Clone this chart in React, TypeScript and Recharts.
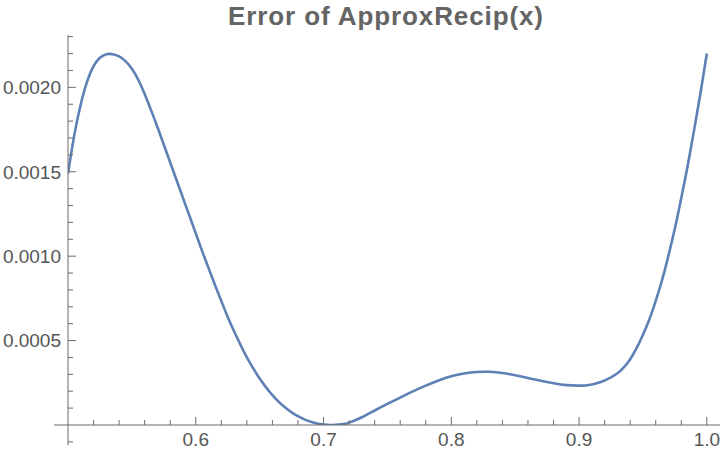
import { LineChart, Line, XAxis, YAxis, ReferenceLine } from "recharts";

const xs = [
  0.5, 0.505, 0.51, 0.515, 0.52, 0.525, 0.53, 0.535, 0.54, 0.545, 0.55, 0.555, 0.56, 0.565, 0.57, 0.575,
  0.58, 0.585, 0.59, 0.595, 0.6, 0.605, 0.61, 0.615, 0.62, 0.625, 0.63, 0.635, 0.64, 0.645, 0.65, 0.655,
  0.66, 0.665, 0.67, 0.675, 0.68, 0.685, 0.69, 0.695, 0.7, 0.705, 0.71, 0.715, 0.72, 0.73, 0.74, 0.75,
  0.76, 0.77, 0.78, 0.79, 0.8, 0.81, 0.82, 0.83, 0.84, 0.85, 0.86, 0.87, 0.88, 0.89, 0.9, 0.905, 0.91,
  0.915, 0.92, 0.925, 0.93, 0.935, 0.94, 0.945, 0.95, 0.955, 0.96, 0.965, 0.97, 0.975, 0.98, 0.985, 0.99,
  0.995, 1.0,
];

// error values
const errs = [
  0.00149, 0.00172, 0.0019, 0.002035, 0.002125, 0.002175, 0.002196, 0.002196, 0.002183, 0.002155,
  0.00211, 0.002045, 0.00196, 0.001865, 0.001765, 0.00166, 0.001555, 0.00145, 0.001345, 0.00124,
  0.001135, 0.00103, 0.00093, 0.00083, 0.000735, 0.00064, 0.000555, 0.000475, 0.0004, 0.000335,
  0.000275, 0.000223, 0.000177, 0.000137, 0.000103, 0.000075, 0.000052, 0.000033, 0.000019, 0.000009,
  0.000003, 0.0000002, 0.000001, 0.000005, 0.000014, 0.000046, 0.000086, 0.000125, 0.000162, 0.000199,
  0.000233, 0.000264, 0.000289, 0.000305, 0.000314, 0.000315, 0.000308, 0.000295, 0.000279, 0.000262,
  0.000247, 0.000236, 0.000233, 0.000234, 0.00024, 0.00025, 0.000264, 0.000282, 0.000306, 0.000341,
  0.00039, 0.000455, 0.000535, 0.000625, 0.000735, 0.00086, 0.001005, 0.001165, 0.001345, 0.001535,
  0.001745, 0.001965, 0.0022,
];

const xTicks = [
  0.52, 0.54, 0.56, 0.58, 0.6, 0.62, 0.64, 0.66, 0.68, 0.7, 0.72, 0.74, 0.76, 0.78, 0.8, 0.82, 0.84,
  0.86, 0.88, 0.9, 0.92, 0.94, 0.96, 0.98, 1.0,
];

const yTicks = [
  0.0001, 0.0002, 0.0003, 0.0004, 0.0005, 0.0006, 0.0007, 0.0008, 0.0009, 0.001, 0.0011, 0.0012,
  0.0013, 0.0014, 0.0015, 0.0016, 0.0017, 0.0018, 0.0019, 0.002, 0.0021, 0.0022, 0.0023,
];

const data = xs.map((x, i) => ({ x, err: errs[i] }));

const AXIS = "#6b6b6b";
const LABEL = "#555555";
const FONT = "'Liberation Sans', Arial, sans-serif";

const isMultiple = (v: number, step: number) => Math.abs(v / step - Math.round(v / step)) < 1e-6;

function XTick({ x, y, payload }: any) {
  const major = isMultiple(payload.value, 0.1);
  return (
    <g>
      <line x1={x} x2={x} y1={y} y2={y - (major ? 8 : 5)} stroke={AXIS} strokeWidth={1} />
      {major && (
        <text x={x} y={y + 21} textAnchor="middle" fontSize={19} fill={LABEL} fontFamily={FONT}>
          {payload.value.toFixed(1)}
        </text>
      )}
    </g>
  );
}

function YTick({ x, y, payload }: any) {
  const major = isMultiple(payload.value, 0.0005);
  return (
    <g>
      <line x1={x} x2={x + (major ? 8 : 5)} y1={y} y2={y} stroke={AXIS} strokeWidth={1} />
      {major && (
        <text x={x - 7} y={y} dy="0.36em" textAnchor="end" fontSize={19} fill={LABEL} fontFamily={FONT}>
          {payload.value.toFixed(4)}
        </text>
      )}
    </g>
  );
}

export default function App() {
  return (
    <div style={{ position: "absolute", left: 0, top: 0, width: 720, height: 454, background: "#fff" }}>
      <svg width={720} height={40} style={{ position: "absolute", left: 0, top: 0 }}>
        <text
          x={386}
          y={25}
          textAnchor="middle"
          fontSize={26}
          fontWeight="bold"
          letterSpacing={0.9}
          fill="#646464"
          fontFamily={FONT}
        >
          Error of ApproxRecip(x)
        </text>
      </svg>
      <LineChart width={720} height={454} data={data} margin={{ top: 35, right: 0, bottom: 0, left: 0 }}>
        <XAxis
          dataKey="x"
          type="number"
          domain={[0.5, 1.0103]}
          allowDataOverflow
          ticks={xTicks}
          interval={0}
          height={29}
          tickSize={0}
          tickMargin={0}
          tickLine={false}
          axisLine={{ stroke: AXIS }}
          tick={<XTick />}
        />
        <YAxis
          type="number"
          domain={[0, 0.00231]}
          allowDataOverflow
          ticks={yTicks}
          interval={0}
          width={68}
          tickSize={0}
          tickMargin={0}
          tickLine={false}
          axisLine={{ stroke: AXIS }}
          tick={<YTick />}
        />
        {/* axis stubs beyond the origin, as in the reference */}
        <ReferenceLine
          segment={[{ x: 0.4891, y: 0 }, { x: 0.5, y: 0 }]}
          ifOverflow="visible"
          stroke={AXIS}
        />
        <ReferenceLine
          segment={[{ x: 0.5, y: 0 }, { x: 0.5, y: -0.00012 }]}
          ifOverflow="visible"
          stroke={AXIS}
        />
        <ReferenceLine
          segment={[{ x: 0.5, y: -0.0001 }, { x: 0.5039, y: -0.0001 }]}
          ifOverflow="visible"
          stroke={AXIS}
        />
        <Line
          dataKey="err"
          type="natural"
          stroke="#5E81B5"
          strokeWidth={2.6}
          dot={false}
          isAnimationActive={false}
        />
      </LineChart>
    </div>
  );
}
